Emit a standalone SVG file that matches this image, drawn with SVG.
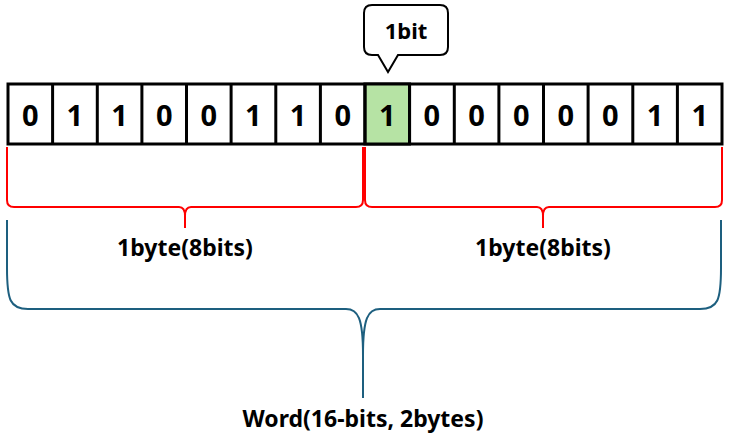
<svg xmlns="http://www.w3.org/2000/svg" width="729" height="436" viewBox="0 0 729 436">
<style>
.cell{fill:#fff;stroke:#000;stroke-width:3}
.hl{fill:#b6e3a4}
.d{font-family:"Noto Sans","Liberation Sans",sans-serif;font-weight:bold;font-size:29px;text-anchor:middle;fill:#000}
.lbl{font-family:"Noto Sans","Liberation Sans",sans-serif;font-weight:bold;font-size:23px;text-anchor:middle;fill:#000}
.red{fill:none;stroke:#ff0000;stroke-width:2}
.blue{fill:none;stroke:#1d5f7f;stroke-width:2}
</style>
<rect width="729" height="436" fill="#fff"/>
<g id="callout">
<path d="M372,5 H440 Q448,5 448,13 V47 Q448,55 440,55 H398 L388,72 L378,55 H372 Q364,55 364,47 V13 Q364,5 372,5 Z" fill="#fff" stroke="#000" stroke-width="2"/>
<text class="lbl" x="406" y="39" style="font-size:22px">1bit</text>
</g>
<g id="bits">
<rect class="cell" x="8" y="84" width="714" height="60"/>
<rect class="cell hl" x="364.9" y="84" width="44.6" height="60"/>
<path d="M52.6,84V144M97.3,84V144M141.9,84V144M186.5,84V144M231.1,84V144M275.8,84V144M320.4,84V144M365,84V144M409.6,84V144M454.3,84V144M498.9,84V144M543.5,84V144M588.1,84V144M632.8,84V144M677.4,84V144" stroke="#000" stroke-width="3"/>
<text class="d" y="126"><tspan x="30.3">0</tspan><tspan x="74.9">1</tspan><tspan x="119.6">1</tspan><tspan x="164.2">0</tspan><tspan x="208.8">0</tspan><tspan x="253.4">1</tspan><tspan x="298.1">1</tspan><tspan x="342.7">0</tspan><tspan x="387.3">1</tspan><tspan x="431.9">0</tspan><tspan x="476.6">0</tspan><tspan x="521.2">0</tspan><tspan x="565.8">0</tspan><tspan x="610.4">0</tspan><tspan x="655.1">1</tspan><tspan x="699.7">1</tspan></text>
</g>
<g id="connectors">
<path class="red" d="M7,147 V200 Q7,207 14,207 H179 Q185,207 185,216 V228 V216 Q185,207 191,207 H356 Q363,207 363,200 V147"/>
<path class="red" d="M365,147 V200 Q365,207 372,207 H537 Q543,207 543,216 V228 V216 Q543,207 549,207 H715 Q722,207 722,200 V147"/>
<path class="blue" d="M7,220 V268 C7,300 10,309 28,309 H346 C358,309 363,318 363,355 V398 V355 C363,318 368,309 380,309 H700 C718,309 721,300 721,268 V220"/>
</g>
<g id="labels">
<text class="lbl" x="185" y="256">1byte(8bits)</text>
<text class="lbl" x="543" y="256">1byte(8bits)</text>
<text class="lbl" x="363" y="427">Word(16-bits, 2bytes)</text>
</g>
</svg>
